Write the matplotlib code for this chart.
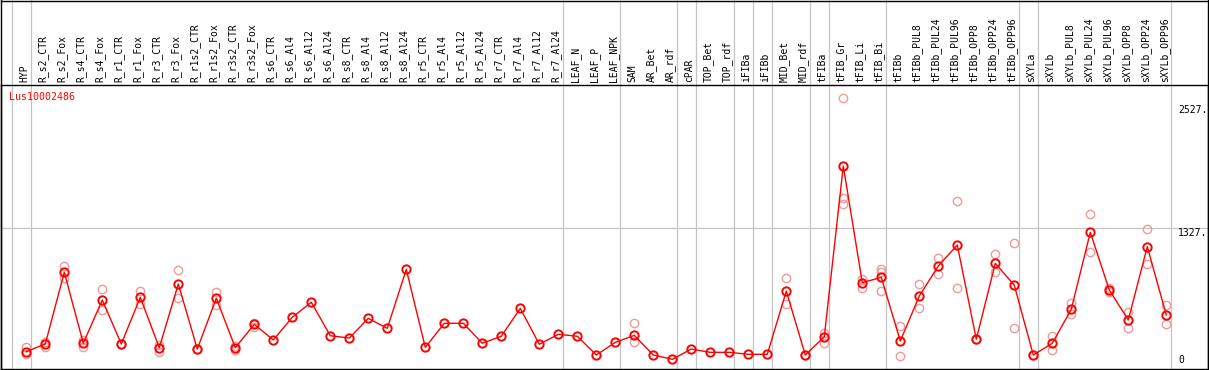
import matplotlib
matplotlib.use('Agg')
import matplotlib.pyplot as plt
from matplotlib.lines import Line2D
import matplotlib.transforms as mtransforms

GENE = "Lus10002486"

samples = [
    "HYP", "R_s2_CTR", "R_s2_Fox", "R_s4_CTR", "R_s4_Fox", "R_r1_CTR", "R_r1_Fox",
    "R_r3_CTR", "R_r3_Fox", "R_r1s2_CTR", "R_r1s2_Fox", "R_r3s2_CTR", "R_r3s2_Fox",
    "R_s6_CTR", "R_s6_Al4", "R_s6_Al12", "R_s6_Al24", "R_s8_CTR", "R_s8_Al4",
    "R_s8_Al12", "R_s8_Al24", "R_r5_CTR", "R_r5_Al4", "R_r5_Al12", "R_r5_Al24",
    "R_r7_CTR", "R_r7_Al4", "R_r7_Al12", "R_r7_Al24", "LEAF_N", "LEAF_P", "LEAF_NPK",
    "SAM", "AR_Bet", "AR_rdf", "cPAR", "TOP_Bet", "TOP_rdf", "iFIBa", "iFIBb",
    "MID_Bet", "MID_rdf", "tFIBa", "tFIB_Gr", "tFIB_Li", "tFIB_Bi", "tFIBb",
    "tFIBb_PUL8", "tFIBb_PUL24", "tFIBb_PUL96", "tFIBb_OPP8", "tFIBb_OPP24", "tFIBb_OPP96",
    "sXYLa", "sXYLb", "sXYLb_PUL8", "sXYLb_PUL24", "sXYLb_PUL96", "sXYLb_OPP8",
    "sXYLb_OPP24", "sXYLb_OPP96",
]

means = [
    129, 204, 900, 211, 631, 204, 657, 168, 786, 155, 648, 168, 395,
    243, 463, 609, 284, 262, 453, 356, 928, 171, 405, 405, 211,
    279, 550, 201, 298, 279, 97, 220,
    288, 97, 55, 155, 123, 123, 104, 104,
    718, 97, 275, 1932, 799, 851, 233,
    670, 961, 1165, 250, 987, 774,
    97, 211, 541, 1288, 728, 437, 1149, 485,
]

replicates = [
    [178, 104], [226, 178], [961, 842], [243, 178], [735, 534], [204, 204], [718, 592],
    [194, 129], [922, 653], [155, 155], [712, 583], [185, 150], [411, 366],
    [], [], [], [], [], [], [], [], [], [], [], [],
    [], [], [], [], [], [], [],
    [405, 220], [], [], [], [], [], [], [],
    [842, 589], [97, 97], [314, 211], [2589, 1618, 1560], [835, 745], [929, 906, 718], [379, 87],
    [786, 556], [1042, 881], [1592, 745], [250, 250], [1078, 900], [1187, 356],
    [97, 97], [284, 146], [599, 492], [1463, 1100], [750, 710], [512, 362],
    [1320, 978], [583, 395],
]

# last sample of each group gets a separator line
group_ends = [-1, 0, 28, 31, 34, 35, 37, 38, 39, 41, 42, 45, 52, 53, 60]

tick_values = [2527, 1327, 0]

W, H = 1209, 370
fig = plt.figure(figsize=(W / 100, H / 100), dpi=100)

# plot area in pixels: x 1..1208, y 85..369 (from top)
ax = fig.add_axes([1 / W, 1 / H, 1207 / W, 284 / H])
step, x0 = 19.0, 26.3
ax.set_xlim((1 - x0) / step, (1208 - x0) / step)
ax.set_ylim(-38.8, 2718.4)
ax.set_xticks([])
ax.set_yticks([])
for s in ax.spines.values():
    s.set_color('black')
    s.set_linewidth(1.0)

mono = 'DejaVu Sans Mono'

# separators through label area too
for g in group_ends:
    ax.axvline(g + 4.4 / step, ymin=0, ymax=369 / 284, color='#c4c4c4', lw=0.9, clip_on=False, zorder=0)
ax.axhline(1327, color='#c4c4c4', lw=0.9, zorder=0)

xs = list(range(len(samples)))
for i, reps in enumerate(replicates):
    if reps:
        ax.plot([i] * len(reps), reps, 'o', ms=6, mfc='none', mec='#f09a9a', mew=1.0, zorder=2)
ax.plot(xs, means, '-', color='red', lw=1.0, zorder=3)
ax.plot(xs, means, 'o', ms=6, mfc='none', mec='red', mew=1.4, zorder=4)

trans = mtransforms.blended_transform_factory(ax.transData, ax.transAxes)
for i, name in enumerate(samples):
    ax.text(i - 2 / step, 1 + 3 / 284, name, rotation=90, ha='center', va='bottom',
            family=mono, fontsize=7, transform=trans, clip_on=False)

ax.text(8 / 1207, 1 - 12 / 284, GENE, color='red', family=mono, fontsize=7.2,
        transform=ax.transAxes, va='center', ha='left')

tr_y = mtransforms.blended_transform_factory(ax.transAxes, ax.transData)
for v in tick_values:
    if v == 0:
        ax.text(1177 / 1207, v, "0", family=mono, fontsize=7, transform=tr_y,
                ha='left', va='bottom')
    else:
        ax.text(1177 / 1207, v, f"{v}.", family=mono, fontsize=7, transform=tr_y,
                ha='left', va='top')

# outer frame of the label area
fig.add_artist(Line2D([1 / W, 1208 / W], [1 - 0.6 / H, 1 - 0.6 / H], color='black', lw=1.0))
fig.add_artist(Line2D([1 / W, 1 / W], [1 / H, 1], color='black', lw=1.0))
fig.add_artist(Line2D([1208 / W, 1208 / W], [1 / H, 1], color='black', lw=1.0))

fig.savefig('out.png', dpi=100)
